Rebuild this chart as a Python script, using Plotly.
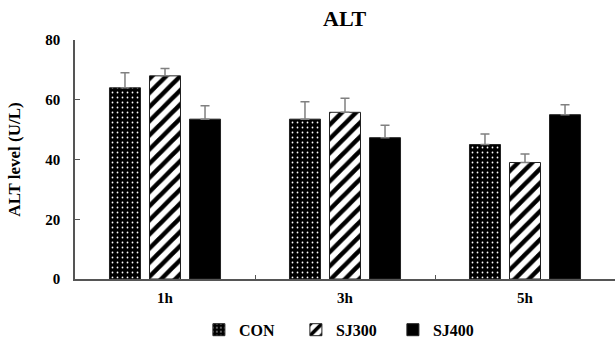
import plotly.graph_objects as go

categories = ["1h", "3h", "5h"]
con = [64.0, 53.5, 45.0]
con_err = [5.0, 5.8, 3.5]
sj300 = [68.0, 55.8, 39.0]
sj300_err = [2.5, 4.7, 2.8]
sj400 = [53.5, 47.3, 55.0]
sj400_err = [4.5, 4.2, 3.3]

FONT = "Liberation Serif"

def bar(name, y, err, color, pattern):
    return go.Bar(
        name=name, x=categories, y=y,
        marker=dict(color=color, line=dict(color="#222222", width=1), pattern=pattern),
        error_y=dict(type="data", array=err, symmetric=False,
                     arrayminus=[0] * len(err), color="#808080",
                     thickness=1.5, width=4.5),
    )

fig = go.Figure()
fig.add_trace(bar("CON", con, con_err, "black",
                  dict(shape=".", bgcolor="black", fgcolor="white",
                       size=5, solidity=0.1, fillmode="replace")))
fig.add_trace(bar("SJ300", sj300, sj300_err, "white",
                  dict(shape="/", bgcolor="white", fgcolor="black",
                       size=10, solidity=0.45, fillmode="replace")))
fig.add_trace(bar("SJ400", sj400, sj400_err, "black", None))

fig.update_layout(
    width=615, height=340,
    margin=dict(l=75, r=0, t=40, b=61),
    paper_bgcolor="white", plot_bgcolor="white",
    barmode="group", bargap=0.333, bargroupgap=0.225,
    font=dict(family=FONT, color="black", size=15, weight="bold"),
    showlegend=True,
    legend=dict(orientation="h", x=0.56, xref="container", xanchor="center",
                y=0.03, yref="container", yanchor="middle",
                font=dict(family=FONT, size=16, color="black", weight="bold"),
                itemwidth=30, entrywidth=52, traceorder="normal"),
    annotations=[dict(text="ALT", x=0.5, xref="paper", y=1.092, yref="paper",
                      xanchor="center", yanchor="middle", showarrow=False,
                      font=dict(family=FONT, size=22, color="black", weight="bold"))],
)
fig.update_xaxes(
    showline=True, linecolor="#555555", linewidth=1.5,
    ticks="inside", tickson="boundaries", ticklen=4, tickcolor="#555555",
    tickfont=dict(family=FONT, size=15, color="black", weight="bold"), ticklabelstandoff=4,
    showgrid=False,
)
fig.update_yaxes(
    range=[0, 80], dtick=20, showline=True, linecolor="#555555", linewidth=1.5,
    ticks="inside", ticklen=5, tickcolor="#555555", showgrid=False, zeroline=False,
    tickfont=dict(family=FONT, size=15, color="black", weight="bold"), ticklabelstandoff=10,
    title=dict(text="ALT level (U/L)", font=dict(family=FONT, size=17, color="black", weight="bold"),
               standoff=20),
)

fig.write_html("out.html", config={"displayModeBar": False},
               post_script="document.body.style.margin='0';document.body.style.overflow='hidden';")
